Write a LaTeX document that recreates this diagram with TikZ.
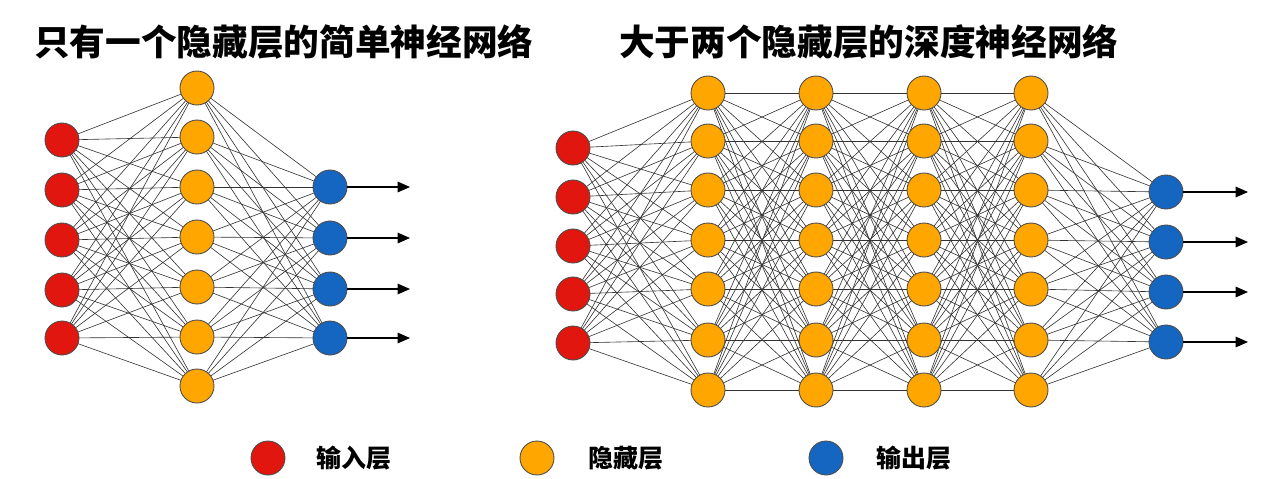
\documentclass[tikz,border=0pt]{standalone}
\usepackage{fontspec}
\newfontfamily\cjk{Noto Sans CJK SC}
\usetikzlibrary{arrows.meta}
\definecolor{inred}{HTML}{E0160F}
\definecolor{hidor}{HTML}{FFA600}
\definecolor{outbl}{HTML}{1466C0}
\tikzset{
 neuron/.style={circle,draw=black!70,line width=0.5pt,minimum size=0.68cm,inner sep=0},
 inn/.style={neuron,fill=inred},
 hid/.style={neuron,fill=hidor},
 outn/.style={neuron,fill=outbl},
 link/.style={black!80,line width=0.35pt},
 outarrow/.style={black,line width=0.6pt,-{Triangle[length=7pt,width=6pt]}},
 title/.style={font=\cjk\bfseries\fontsize{20.3}{23}\selectfont,anchor=west},
 legend/.style={font=\cjk\bfseries\fontsize{14.2}{17}\selectfont,anchor=west}
}
\begin{document}
\begin{tikzpicture}[x=0.02cm,y=-0.02cm]
\useasboundingbox (0,0) rectangle (1270,478);
\node[title] (t1) at (28,42) {只有一个隐藏层的简单神经网络};
\node[title] (t2) at (613,42) {大于两个隐藏层的深度神经网络};
% left network
\foreach \y [count=\i] in {140,190,240,290,338} \coordinate (a\i) at (62,\y);
\foreach \y [count=\i] in {88,137,187,237,287,337,386} \coordinate (b\i) at (197,\y);
\foreach \y [count=\i] in {187,238,289,338} \coordinate (c\i) at (330,\y);
\foreach \i in {1,...,5} \foreach \j in {1,...,7} \draw[link] (a\i) -- (b\j);
\foreach \i in {1,...,7} \foreach \j in {1,...,4} \draw[link] (b\i) -- (c\j);
\foreach \i in {1,...,5} \node[inn] (A\i) at (a\i) {};
\foreach \i in {1,...,7} \node[hid] (B\i) at (b\i) {};
\foreach \i in {1,...,4} {\node[outn] (C\i) at (c\i) {};
  \coordinate (ce\i) at ([xshift=1.6cm]c\i);
  \draw[outarrow] (C\i) -- (ce\i);}
% right network
\foreach \y [count=\i] in {148,197,246,294,343} \coordinate (p\i) at (573,\y);
\foreach \x [count=\k] in {708,816,924,1031}
  \foreach \y [count=\i] in {93,141,190,240,289,340,390} \coordinate (h\k-\i) at (\x,\y);
\foreach \y [count=\i] in {192,242,292,342} \coordinate (q\i) at (1166,\y);
\foreach \i in {1,...,5} \foreach \j in {1,...,7} \draw[link] (p\i) -- (h1-\j);
\foreach \k [evaluate=\k as \n using int(\k+1)] in {1,2,3}
  \foreach \i in {1,...,7} \foreach \j in {1,...,7} \draw[link] (h\k-\i) -- (h\n-\j);
\foreach \i in {1,...,7} \foreach \j in {1,...,4} \draw[link] (h4-\i) -- (q\j);
\foreach \i in {1,...,5} \node[inn] (P\i) at (p\i) {};
\foreach \k in {1,...,4} \foreach \i in {1,...,7} \node[hid] (H\k-\i) at (h\k-\i) {};
\foreach \i in {1,...,4} {\node[outn] (Q\i) at (q\i) {};
  \coordinate (qe\i) at ([xshift=1.64cm]q\i);
  \draw[outarrow] (Q\i) -- (qe\i);}
% legend
\node[inn] (L1) at (268,458) {};
\node[legend] (l1) at (310,458) {输入层};
\node[hid] (L2) at (537,458) {};
\node[legend] (l2) at (582,458) {隐藏层};
\node[outn] (L3) at (826,458) {};
\node[legend] (l3) at (870,458) {输出层};
\end{tikzpicture}
\end{document}
